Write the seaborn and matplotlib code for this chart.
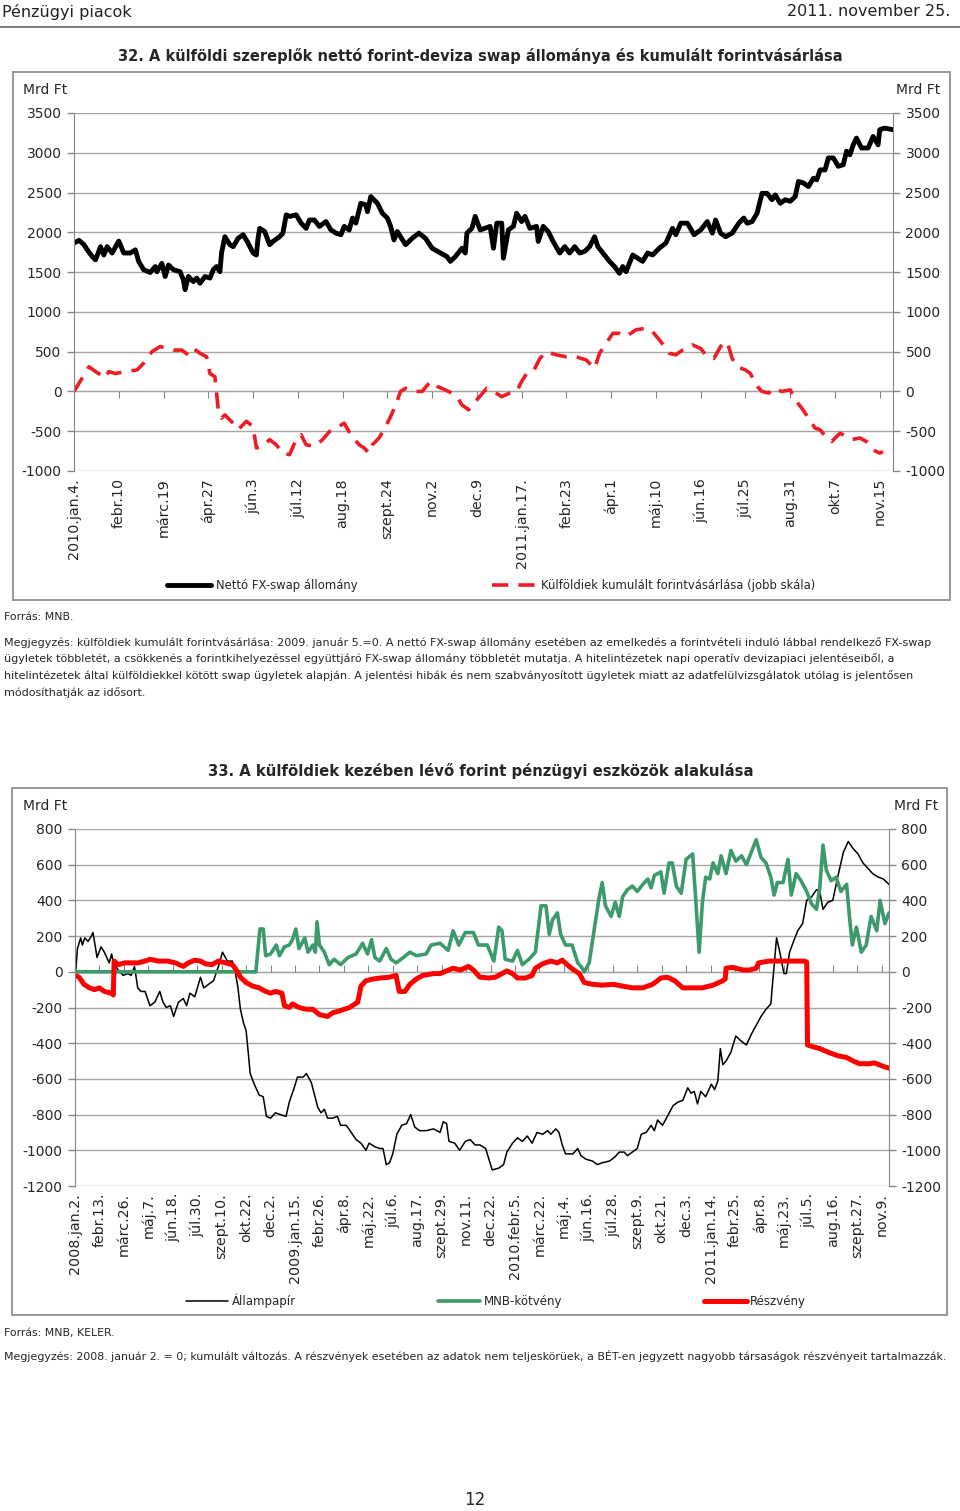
import numpy as np
import pandas as pd
import matplotlib
matplotlib.use("Agg")
import matplotlib.pyplot as plt
from matplotlib.patches import Rectangle
from matplotlib.ticker import NullFormatter
import seaborn as sns

sns.set_style("white")
plt.rcParams["font.family"] = ["DejaVu Sans"]
plt.rcParams["axes.unicode_minus"] = False

# ---------------- 32. chart (x = business days since 2010.jan.4.) ----------------
swap_day = [0, 3, 6, 8, 11, 13, 16, 18, 20, 23, 27, 30, 34, 37, 39, 42, 46, 49, 50, 53, 55, 57, 60, 64,
            66, 67, 69, 72, 74, 76, 79, 82, 84, 86, 88, 89, 91, 94, 96, 99, 102, 105, 108, 110, 111, 112,
            115, 118, 120, 124, 126, 128, 130, 134, 137, 140, 142, 145, 148, 152, 155, 158, 161, 163, 166,
            168, 170, 173, 176, 177, 179, 183, 186, 189, 191, 193, 195, 200, 204, 208, 212, 216, 221, 225,
            227, 230, 234, 236, 237, 240, 242, 245, 251, 253, 255, 258, 259, 262, 265, 267, 270, 272, 275,
            279, 280, 283, 286, 289, 293, 296, 299, 302, 305, 308, 311, 314, 316, 319, 323, 326, 329, 331,
            333, 337, 340, 343, 346, 349, 353, 357, 361, 363, 366, 370, 374, 378, 382, 385, 387, 390, 393,
            397, 401, 404, 406, 409, 412, 415, 418, 421, 423, 426, 429, 432, 435, 437, 440, 443, 446, 448,
            450, 453, 455, 458, 461, 464, 466, 468, 470, 472, 475, 479, 482, 485, 486, 489, 494]
swap_val = [1865, 1900, 1845, 1780, 1695, 1655, 1820, 1715, 1820, 1740, 1890, 1740, 1740, 1780, 1635, 1530,
            1495, 1570, 1505, 1610, 1445, 1590, 1530, 1505, 1400, 1280, 1445, 1380, 1425, 1360, 1445, 1425,
            1530, 1570, 1505, 1740, 1945, 1845, 1820, 1925, 1970, 1865, 1740, 1715, 1925, 2050, 2010, 1845,
            1885, 1945, 1990, 2220, 2200, 2220, 2115, 2050, 2155, 2155, 2075, 2135, 2030, 1990, 1970, 2075,
            2030, 2180, 2115, 2365, 2345, 2260, 2450, 2365, 2240, 2180, 2075, 1905, 2010, 1845, 1925, 1990,
            1925, 1800, 1740, 1695, 1635, 1695, 1800, 1740, 1990, 2050, 2200, 2030, 2075, 1800, 2115, 2115,
            1675, 2030, 2075, 2240, 2135, 2200, 2050, 2075, 1885, 2075, 2010, 1885, 1740, 1820, 1740, 1820,
            1740, 1760, 1820, 1945, 1820, 1740, 1635, 1570, 1485, 1570, 1505, 1715, 1675, 1635, 1740, 1715,
            1800, 1865, 2050, 1970, 2115, 2115, 1970, 2030, 2135, 1990, 2155, 1990, 1945, 1990, 2115, 2180,
            2115, 2135, 2240, 2490, 2490, 2410, 2470, 2365, 2410, 2390, 2450, 2640, 2620, 2575, 2680, 2660,
            2785, 2785, 2935, 2935, 2830, 2850, 3020, 2975, 3100, 3185, 3060, 3060, 3205, 3100, 3290, 3310,
            3290]
buy_day = [0, 5, 9, 13, 19, 21, 25, 31, 38, 42, 47, 52, 56, 60, 65, 69, 72, 76, 80, 82, 85, 87, 89, 91,
           96, 99, 104, 108, 110, 114, 118, 122, 126, 130, 134, 137, 140, 145, 150, 154, 158, 163, 167, 172,
           175, 178, 180, 184, 187, 191, 194, 197, 200, 205, 210, 215, 219, 226, 231, 234, 238, 243, 249,
           253, 258, 263, 267, 270, 273, 277, 281, 285, 291, 297, 303, 309, 314, 317, 321, 325, 329, 333,
           339, 345, 349, 354, 359, 363, 367, 373, 378, 382, 386, 390, 394, 397, 400, 405, 408, 412, 415,
           419, 422, 427, 432, 435, 439, 443, 447, 450, 454, 457, 462, 466, 469, 474, 478, 482, 486, 488]
buy_val = [0, 170, 310, 250, 170, 250, 225, 250, 270, 355, 500, 565, 540, 520, 520, 460, 540, 480, 435,
           225, 185, -230, -335, -295, -400, -480, -375, -440, -710, -690, -605, -670, -775, -795, -605,
           -545, -670, -690, -605, -505, -460, -400, -545, -670, -710, -775, -670, -585, -480, -315, -170,
           0, 40, 0, 0, 125, 65, 0, -65, -170, -230, -105, 40, 0, -65, -20, 0, 125, 225, 250, 415, 500, 460,
           435, 435, 395, 290, 480, 605, 730, 730, 690, 775, 795, 750, 625, 480, 460, 520, 585, 540, 435,
           415, 565, 625, 415, 310, 270, 225, 65, 0, -20, 40, 0, 20, -105, -210, -335, -460, -480, -585,
           -630, -525, -565, -605, -585, -630, -735, -775, -755]
c32_labels = ["2010.jan.4.", "febr.10", "márc.19", "ápr.27", "jún.3", "júl.12", "aug.18", "szept.24",
              "nov.2", "dec.9", "2011.jan.17.", "febr.23", "ápr.1", "máj.10", "jún.16", "júl.25",
              "aug.31", "okt.7", "nov.15"]

# ---------------- 33. chart (x = business days since 2008.jan.2.) ----------------
gov_day = [0, 1, 3, 7, 9, 12, 16, 20, 22, 25, 27, 32, 36, 42, 45, 47, 53, 59, 65, 69, 73, 77, 81, 86, 92,
           98, 104, 108, 112, 117, 121, 127, 133, 137, 141, 147, 154, 158, 164, 170, 176, 181, 187, 193,
           197, 200, 203, 207, 210, 213, 215, 220, 226, 231, 235, 240, 246, 252, 259, 263, 269, 273, 280,
           284, 290, 294, 298, 302, 306, 310, 316, 322, 326, 333, 339, 345, 351, 357, 361, 368, 374, 378,
           382, 386, 390, 395, 401, 407, 412, 417, 423, 431, 440, 448, 452, 456, 459, 466, 472, 479, 485,
           491, 497, 504, 508, 512, 520, 526, 530, 537, 543, 549, 555, 561, 567, 574, 580, 584, 590, 594,
           598, 602, 611, 617, 621, 627, 635, 641, 647, 656, 662, 668, 674, 678, 684, 690, 695, 701, 707,
           711, 715, 721, 727, 734, 740, 746, 752, 756, 760, 764, 768, 774, 781, 785, 789, 792, 795, 799,
           805, 811, 818, 824, 830, 836, 842, 848, 854, 856, 861, 865, 870, 873, 877, 881, 887, 893, 898,
           904, 910, 914, 918, 924, 930, 936, 943, 949, 955, 961, 967, 973, 979, 986, 992, 999]
gov_val = [0, 8, 130, 190, 150, 190, 170, 200, 220, 140, 80, 140, 110, 50, 100, 50, 10, -20, -10, -20, 30,
           -90, -110, -110, -190, -170, -110, -170, -200, -190, -250, -170, -150, -190, -120, -140, -30,
           -90, -70, -50, 30, 110, 60, 60, -10, -90, -210, -290, -330, -470, -570, -630, -690, -700, -810,
           -820, -790, -800, -810, -730, -650, -590, -590, -570, -620, -690, -760, -790, -770, -820, -820,
           -810, -860, -860, -900, -940, -960, -1000, -960, -980, -990, -990, -1080, -1070, -1020, -910,
           -860, -850, -800, -870, -890, -890, -880, -900, -840, -850, -950, -960, -1000, -950, -940, -970,
           -970, -990, -1050, -1110, -1100, -1080, -1010, -960, -930, -950, -920, -960, -900, -910, -890,
           -910, -880, -900, -970, -1020, -1020, -990, -1030, -1050, -1060, -1080, -1070, -1060, -1040,
           -1010, -1010, -1030, -1010, -990, -910, -900, -860, -890, -830, -860, -810, -750, -730, -720,
           -650, -680, -670, -740, -670, -700, -630, -660, -610, -430, -520, -500, -450, -360, -390, -410,
           -350, -300, -250, -210, -180, -70, 190, 110, -10, -10, 110, 160, 230, 270, 400, 420, 460, 450,
           350, 390, 400, 530, 670, 730, 690, 660, 610, 580, 550, 530, 520, 490]
mnb_day = [0, 222, 224, 227, 231, 234, 240, 247, 251, 257, 263, 267, 271, 275, 282, 286, 292, 295, 297,
           300, 306, 312, 318, 326, 335, 345, 353, 359, 364, 368, 374, 382, 388, 394, 403, 411, 419, 431,
           437, 448, 458, 464, 471, 479, 489, 495, 506, 514, 520, 524, 528, 537, 543, 549, 557, 565, 572,
           578, 582, 586, 592, 596, 602, 610, 617, 621, 625, 631, 637, 643, 647, 651, 658, 663, 668, 672,
           678, 684, 690, 697, 703, 707, 711, 719, 723, 729, 733, 738, 744, 750, 758, 762, 766, 770, 774,
           779, 783, 789, 793, 799, 805, 811, 818, 824, 830, 836, 842, 848, 854, 858, 862, 869, 875, 879,
           885, 891, 898, 904, 910, 914, 918, 922, 928, 934, 940, 947, 950, 954, 959, 965, 971, 977, 984,
           988, 994, 999]
mnb_val = [0, 0, 100, 240, 240, 90, 100, 150, 90, 140, 150, 180, 240, 130, 190, 110, 150, 110, 280, 150,
           110, 40, 70, 40, 80, 100, 160, 100, 180, 80, 60, 130, 70, 50, 80, 110, 90, 100, 150, 160, 120,
           230, 150, 220, 220, 150, 150, 60, 250, 230, 70, 60, 120, 40, 70, 110, 370, 370, 210, 290, 330,
           210, 150, 150, 50, 30, 0, 50, 230, 410, 500, 370, 310, 390, 310, 420, 460, 480, 450, 490, 520,
           470, 540, 560, 440, 610, 610, 480, 440, 630, 660, 390, 110, 390, 530, 520, 610, 550, 650, 550,
           680, 620, 650, 600, 670, 740, 640, 610, 530, 430, 500, 500, 630, 430, 550, 510, 450, 380, 350,
           470, 710, 570, 510, 530, 450, 490, 330, 150, 250, 110, 150, 310, 230, 400, 270, 330]
eq_day = [0, 5, 11, 18, 24, 30, 36, 45, 47, 48, 53, 61, 69, 77, 86, 92, 102, 114, 123, 133, 139, 147, 154,
          160, 168, 176, 185, 193, 198, 203, 210, 218, 226, 234, 240, 246, 254, 257, 263, 267, 275, 284,
          292, 300, 310, 316, 324, 337, 347, 351, 357, 366, 374, 386, 394, 398, 405, 411, 419, 427, 440,
          448, 456, 464, 473, 483, 489, 497, 508, 516, 524, 530, 537, 543, 553, 561, 565, 574, 584, 592,
          598, 604, 612, 619, 625, 635, 647, 660, 672, 684, 697, 709, 719, 727, 736, 746, 758, 770, 783,
          795, 798, 799, 807, 820, 828, 836, 839, 852, 864, 881, 895, 898, 899, 906, 914, 924, 936, 947,
          955, 963, 975, 981, 992, 999]
eq_val = [-20, -30, -70, -90, -100, -90, -110, -120, -130, 60, 40, 50, 50, 50, 60, 70, 60, 60, 50, 30, 50,
          65, 60, 45, 40, 60, 50, 40, 10, -30, -60, -80, -90, -110, -120, -110, -120, -190, -200, -180,
          -200, -210, -210, -240, -250, -230, -220, -200, -170, -80, -50, -40, -35, -30, -20, -110, -110,
          -70, -40, -20, -10, -10, 5, 20, 10, 30, 10, -30, -35, -30, -10, 5, -10, -35, -35, -20, 20, 45,
          60, 50, 65, 40, 10, -10, -60, -70, -75, -70, -80, -90, -90, -70, -35, -30, -50, -90, -90, -90,
          -75, -50, -40, 20, 25, 10, 10, 20, 50, 60, 60, 60, 60, 55, -410, -420, -430, -450, -470, -480,
          -500, -515, -515, -510, -530, -540]
c33_labels = ["2008.jan.2.", "febr.13.", "márc.26.", "máj.7.", "jún.18.", "júl.30.", "szept.10.",
              "okt.22.", "dec.2.", "2009.jan.15.", "febr.26.", "ápr.8.", "máj.22.", "júl.6.", "aug.17.",
              "szept.29.", "nov.11.", "dec.22.", "2010.febr.5.", "márc.22.", "máj.4.", "jún.16.",
              "júl.28.", "szept.9.", "okt.21.", "dec.3.", "2011.jan.14.", "febr.25.", "ápr.8.",
              "máj.23.", "júl.5.", "aug.16.", "szept.27.", "nov.9."]

GRID = "#a6a6a6"
AXIS = "#868686"
W, H = 960, 1511


def fx(px):
    return px / W


def fy(py):
    return 1 - py / H


def style_axes(ax, lo, hi, step, every, labels, last):
    ax.set_xlim(0, last)
    ax.set_ylim(lo, hi)
    ax.set_yticks(np.arange(lo, hi + 1, step))
    ax.set_axisbelow(True)
    ax.yaxis.grid(True, color=GRID, lw=1)
    ax.xaxis.grid(False)
    ax.set_xticks(np.arange(len(labels)) * every)
    ax.set_xticklabels(labels, rotation=90, fontsize=10.3)
    ax.tick_params(axis="x", length=0, pad=5)
    ax.tick_params(axis="y", length=5, width=1, color=AXIS, labelsize=10, pad=4,
                   left=True, right=True, labelleft=True, labelright=True)
    ax.spines["top"].set_visible(False)
    ax.spines["bottom"].set_visible(False)
    for s in ["left", "right"]:
        ax.spines[s].set_color(AXIS)
    # category axis crossing at zero, with tick marks only
    zero = ax.secondary_xaxis((0 - lo) / (hi - lo))
    zero.set_xticks(np.arange(len(labels)) * every)
    zero.xaxis.set_major_formatter(NullFormatter())
    zero.tick_params(axis="x", length=5, color=AXIS)
    zero.spines["bottom"].set_color(AXIS)
    ax.set_xlabel("")
    ax.set_ylabel("")


fig = plt.figure(figsize=(W / 100, H / 100), dpi=100)

# header
fig.text(fx(2), fy(12), "Pénzügyi piacok", fontsize=11.5, va="center", ha="left", color="#222222")
fig.text(fx(950), fy(12), "2011. november 25.", fontsize=11.5, va="center", ha="right", color="#222222")
fig.add_artist(plt.Line2D([0, 1], [fy(27), fy(27)], color="#808080", lw=1.5))

# ---------------- chart 32 ----------------
fig.text(fx(480), fy(56), "32. A külföldi szereplők nettó forint-deviza swap állománya és kumulált forintvásárlása",
         fontsize=10.55, fontweight="bold", ha="center", va="center")
fig.add_artist(Rectangle((fx(13), fy(600)), fx(950) - fx(13), fy(72) - fy(600), transform=fig.transFigure,
                         fill=False, edgecolor=AXIS, lw=1.2))
ax1 = fig.add_axes([fx(74), fy(471), fx(893) - fx(74), fy(113) - fy(471)])
d_swap = pd.DataFrame({"nap": swap_day, "Mrd Ft": swap_val})
d_buy = pd.DataFrame({"nap": buy_day, "Mrd Ft": buy_val})
sns.lineplot(data=d_swap, x="nap", y="Mrd Ft", ax=ax1, color="black", lw=3.5,
             label="Nettó FX-swap állomány")
sns.lineplot(data=d_buy, x="nap", y="Mrd Ft", ax=ax1, color="#ee1c25", lw=2.6, linestyle=(0, (4.5, 2.8)),
             label="Külföldiek kumulált forintvásárlása (jobb skála)")
style_axes(ax1, -1000, 3500, 500, 27, c32_labels, 494)
ax1.legend(loc="center", bbox_to_anchor=(fx(491), fy(586)), bbox_transform=fig.transFigure, ncol=2,
           frameon=False, fontsize=8.4, handlelength=3.8, columnspacing=11.5, handletextpad=0.4)
fig.text(fx(23), fy(90), "Mrd Ft", fontsize=10, ha="left", va="center")
fig.text(fx(940), fy(90), "Mrd Ft", fontsize=10, ha="right", va="center")

fig.text(fx(4), fy(617), "Forrás: MNB.", fontsize=7.8, ha="left", va="center")
note32 = ("Megjegyzés: külföldiek kumulált forintvásárlása: 2009. január 5.=0. A nettó FX-swap állomány esetében az emelkedés a forintvételi induló lábbal rendelkező FX-swap\n"
          "ügyletek többletét, a csökkenés a forintkihelyezéssel együttjáró FX-swap állomány többletét mutatja. A hitelintézetek napi operatív devizapiaci jelentéseiből, a\n"
          "hitelintézetek által külföldiekkel kötött swap ügyletek alapján. A jelentési hibák és nem szabványosított ügyletek miatt az adatfelülvizsgálatok utólag is jelentősen\n"
          "módosíthatják az idősort.")
fig.text(fx(4), fy(637), note32, fontsize=8.0, ha="left", va="top", linespacing=1.62)

# ---------------- chart 33 ----------------
fig.text(fx(481), fy(771), "33. A külföldiek kezében lévő forint pénzügyi eszközök alakulása",
         fontsize=10.75, fontweight="bold", ha="center", va="center")
fig.add_artist(Rectangle((fx(12), fy(1315)), fx(947) - fx(12), fy(788) - fy(1315), transform=fig.transFigure,
                         fill=False, edgecolor=AXIS, lw=1.2))
ax2 = fig.add_axes([fx(75), fy(1186), fx(889) - fx(75), fy(829) - fy(1186)])
d_gov = pd.DataFrame({"nap": gov_day, "Mrd Ft": gov_val})
d_mnb = pd.DataFrame({"nap": mnb_day, "Mrd Ft": mnb_val})
d_eq = pd.DataFrame({"nap": eq_day, "Mrd Ft": eq_val})
sns.lineplot(data=d_gov, x="nap", y="Mrd Ft", ax=ax2, color="black", lw=1.1, label="Állampapír")
sns.lineplot(data=d_mnb, x="nap", y="Mrd Ft", ax=ax2, color="#3d9a6c", lw=2.6, label="MNB-kötvény")
sns.lineplot(data=d_eq, x="nap", y="Mrd Ft", ax=ax2, color="#ff0000", lw=3.6, label="Részvény")
style_axes(ax2, -1200, 800, 200, 30, c33_labels, 999)
ax2.legend(loc="center", bbox_to_anchor=(fx(496), fy(1301)), bbox_transform=fig.transFigure, ncol=3,
           frameon=False, fontsize=8.5, handlelength=3.6, columnspacing=12, handletextpad=0.3)
fig.text(fx(23), fy(806), "Mrd Ft", fontsize=10, ha="left", va="center")
fig.text(fx(938), fy(806), "Mrd Ft", fontsize=10, ha="right", va="center")

fig.text(fx(4), fy(1333), "Forrás: MNB, KELER.", fontsize=7.8, ha="left", va="center")
fig.text(fx(4), fy(1356), "Megjegyzés: 2008. január 2. = 0; kumulált változás. A részvények esetében az adatok nem "
         "teljeskörüek, a BÉT-en jegyzett nagyobb társaságok részvényeit tartalmazzák.",
         fontsize=7.95, ha="left", va="center")

fig.text(fx(475), fy(1500), "12", fontsize=12, ha="center", va="center")

fig.savefig("out.png", dpi=100)
